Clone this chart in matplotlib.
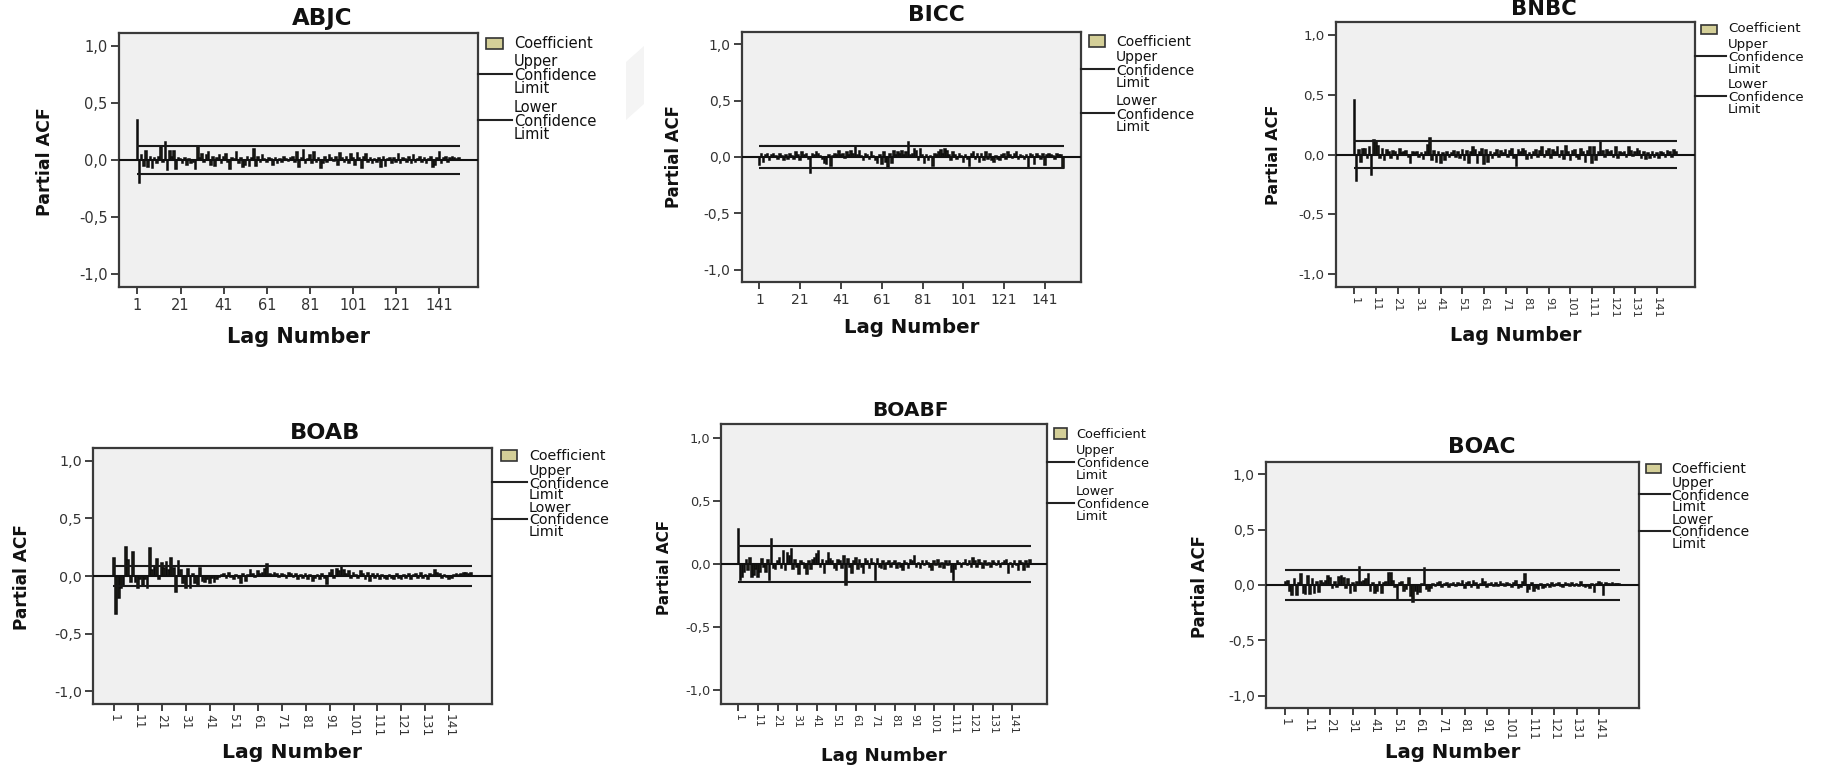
import numpy as np
import matplotlib
matplotlib.use('Agg')
import matplotlib.pyplot as plt
from matplotlib.lines import Line2D
from matplotlib.patches import Rectangle, Polygon

W, H = 1824, 768

titles = ['ABJC', 'BICC', 'BNBC', 'BOAB', 'BOABF', 'BOAC']
lags = np.arange(1, 151)
conf_limits = [0.122, 0.102, 0.116, 0.084, 0.143, 0.138]
y_ticks = [-1.0, -0.5, 0.0, 0.5, 1.0]
y_tick_labels = ['-1,0', '-0,5', '0,0', '0,5', '1,0']

abjc = [0.35, -0.20, 0.04, -0.05, 0.08, -0.06, 0.03, -0.07, 0.02, -0.03,
        0.03, 0.11, -0.02, 0.16, -0.09, 0.08, 0.03, 0.08, -0.08, 0.02,
        0.01, -0.03, 0.02, -0.04, 0.01, -0.03, -0.02, -0.08, 0.12, 0.02,
        0.05, -0.02, 0.04, 0.07, -0.04, 0.03, -0.05, 0.02, 0.04, -0.03,
        0.03, 0.05, -0.02, -0.08, 0.02, 0.01, 0.07, -0.03, 0.02, -0.06,
        -0.04, 0.03, -0.05, 0.02, 0.10, -0.05, 0.03, -0.02, 0.04, 0.01,
        -0.02, 0.02, 0.01, -0.04, 0.02, -0.03, 0.01, -0.02, 0.03, 0.01,
        -0.01, 0.02, 0.03, -0.02, 0.07, -0.06, 0.02, 0.09, -0.03, 0.01,
        0.04, -0.03, 0.07, -0.02, 0.02, -0.07, -0.03, 0.03, -0.02, 0.04,
        0.02, -0.01, 0.03, -0.04, 0.06, 0.02, -0.02, 0.03, -0.03, 0.05,
        0.02, -0.04, 0.06, 0.02, -0.07, 0.03, 0.05, -0.02, 0.02, -0.03,
        0.01, -0.02, 0.02, -0.06, 0.03, -0.05, 0.01, 0.02, -0.03, 0.02,
        -0.02, 0.05, -0.03, 0.02, 0.01, -0.02, 0.03, -0.03, 0.04, -0.02,
        0.01, 0.03, -0.02, 0.02, -0.03, 0.01, 0.03, -0.06, -0.04, 0.02,
        0.07, -0.03, 0.02, 0.03, -0.02, 0.02, 0.03, 0.02, 0.01, 0.02]

bicc = [-0.07, 0.03, -0.04, 0.02, 0.03, -0.03, 0.02, 0.03, 0.01, -0.02,
        0.03, 0.01, -0.03, 0.02, -0.02, 0.03, 0.01, -0.02, 0.04, 0.02,
        -0.03, 0.04, 0.02, 0.03, -0.02, -0.14, 0.03, 0.02, 0.04, 0.03,
        0.01, -0.02, -0.05, -0.06, 0.02, -0.08, 0.01, 0.03, 0.02, 0.05,
        0.02, 0.03, -0.01, 0.04, 0.02, 0.05, 0.03, 0.09, 0.02, 0.05,
        0.01, -0.03, 0.03, 0.02, -0.02, 0.04, 0.01, -0.03, -0.05, 0.02,
        -0.06, 0.04, -0.04, -0.09, 0.03, -0.05, 0.05, 0.02, 0.04, 0.03,
        0.05, 0.02, 0.04, 0.13, 0.02, 0.03, 0.07, 0.05, -0.03, 0.07,
        0.02, -0.05, 0.02, -0.03, 0.01, -0.08, 0.03, 0.02, 0.04, 0.06,
        0.03, 0.07, 0.05, 0.02, -0.03, 0.04, 0.02, -0.02, 0.03, 0.01,
        -0.04, 0.02, -0.02, -0.08, 0.03, 0.04, -0.02, 0.03, -0.04, 0.03,
        -0.03, 0.04, -0.02, 0.03, -0.03, -0.04, 0.01, -0.02, -0.03, 0.02,
        0.03, -0.02, 0.04, 0.02, -0.01, 0.03, 0.04, -0.02, 0.02, 0.01,
        -0.02, 0.02, -0.10, 0.03, 0.02, -0.06, 0.03, 0.01, -0.02, 0.03,
        -0.07, 0.02, 0.03, 0.02, 0.01, -0.02, 0.03, 0.02, 0.02, -0.10]

bnbc = [0.46, -0.22, 0.04, -0.06, 0.05, 0.05, -0.03, 0.06, -0.17, 0.12,
        0.11, 0.07, -0.03, 0.05, -0.05, 0.04, 0.02, -0.03, 0.03, 0.02,
        -0.04, 0.05, 0.01, 0.02, 0.03, -0.02, -0.07, 0.02, 0.01, 0.02,
        -0.02, 0.01, -0.04, 0.02, 0.08, 0.14, -0.05, 0.03, -0.06, 0.02,
        -0.07, 0.01, -0.05, 0.02, -0.02, 0.01, 0.03, -0.02, 0.02, -0.03,
        0.04, -0.05, 0.03, -0.07, 0.02, 0.06, 0.04, -0.07, 0.02, 0.05,
        -0.08, 0.04, -0.06, 0.02, -0.03, 0.01, 0.04, -0.02, 0.03, 0.01,
        0.04, -0.02, 0.03, 0.05, -0.03, -0.10, 0.04, 0.02, 0.05, 0.03,
        -0.04, 0.01, -0.03, 0.02, 0.04, -0.02, 0.03, 0.06, -0.02, 0.03,
        0.05, -0.03, 0.04, 0.02, 0.06, -0.02, 0.03, -0.04, 0.07, 0.02,
        -0.05, 0.03, 0.04, -0.02, -0.04, 0.05, 0.02, -0.06, 0.03, 0.06,
        -0.07, 0.06, -0.05, 0.02, 0.11, 0.03, -0.02, 0.04, 0.02, 0.03,
        -0.02, 0.06, -0.03, 0.02, 0.01, 0.02, -0.02, 0.06, 0.03, -0.01,
        0.02, 0.05, 0.03, -0.03, 0.02, -0.04, 0.01, -0.03, 0.02, -0.02,
        0.01, -0.03, 0.02, 0.01, -0.02, 0.03, 0.02, -0.02, 0.04, 0.02]

boab = [0.16, -0.33, -0.19, -0.10, -0.09, 0.25, 0.14, -0.05, 0.21, -0.05,
        -0.10, -0.03, -0.08, -0.03, -0.10, 0.24, 0.05, 0.08, 0.15, -0.03,
        0.11, 0.07, 0.12, 0.05, 0.16, 0.07, -0.14, 0.13, 0.05, -0.06,
        -0.10, 0.06, -0.10, 0.02, -0.06, -0.09, 0.07, -0.04, -0.05, -0.03,
        -0.06, -0.02, -0.05, -0.03, -0.01, 0.01, 0.02, -0.02, 0.03, -0.01,
        -0.03, 0.01, -0.02, -0.06, 0.02, -0.04, 0.01, 0.05, 0.02, -0.01,
        0.04, 0.02, 0.03, 0.06, 0.10, 0.02, 0.01, 0.03, 0.02, -0.01,
        0.02, 0.01, -0.02, 0.03, 0.02, -0.01, 0.02, -0.03, 0.01, -0.02,
        0.02, -0.03, 0.01, -0.04, -0.02, 0.01, -0.03, 0.02, -0.02, -0.07,
        0.03, 0.05, -0.02, 0.06, 0.04, 0.09, 0.05, 0.02, 0.04, -0.02,
        0.03, 0.01, -0.02, 0.04, 0.02, -0.03, 0.03, -0.04, 0.02, -0.02,
        0.02, -0.03, 0.01, -0.02, -0.03, 0.01, -0.02, -0.03, 0.02, -0.02,
        -0.03, 0.01, -0.02, 0.02, -0.03, 0.01, 0.02, -0.02, 0.03, -0.02,
        0.01, -0.03, 0.02, 0.01, 0.05, 0.03, 0.02, -0.02, 0.01, -0.01,
        -0.03, -0.02, 0.01, 0.02, 0.01, 0.02, 0.03, 0.03, 0.02, 0.03]

boabf = [0.28, -0.13, -0.10, -0.06, 0.03, -0.05, 0.05, -0.10, -0.09, -0.04,
         -0.10, -0.06, 0.04, -0.02, -0.06, 0.03, -0.13, 0.20, -0.03, -0.04,
         0.02, 0.05, -0.03, 0.10, -0.05, 0.09, 0.06, 0.12, -0.04, 0.03,
         -0.02, -0.08, 0.02, 0.01, -0.03, -0.08, 0.02, -0.04, 0.03, 0.05,
         0.08, 0.10, -0.02, 0.03, -0.07, 0.02, 0.09, 0.04, 0.02, -0.03,
         -0.05, 0.03, 0.02, -0.03, 0.06, -0.17, 0.04, -0.02, -0.07, 0.02,
         0.05, -0.04, 0.03, -0.02, -0.07, 0.04, 0.02, -0.03, 0.04, 0.01,
         -0.13, 0.04, -0.02, -0.03, 0.02, -0.04, 0.01, 0.02, -0.02, 0.01,
         0.02, -0.03, 0.01, -0.02, -0.05, 0.02, 0.01, -0.03, 0.03, 0.02,
         0.06, -0.02, 0.01, -0.03, 0.02, -0.01, 0.02, 0.01, -0.02, -0.05,
         0.02, -0.01, 0.03, -0.02, 0.01, -0.03, 0.02, -0.01, 0.02, -0.06,
         -0.13, -0.04, 0.02, 0.01, -0.02, 0.01, 0.03, -0.01, 0.02, -0.02,
         0.05, 0.02, -0.02, 0.03, 0.01, -0.03, 0.02, -0.01, 0.01, -0.02,
         0.02, 0.01, -0.01, 0.02, -0.02, 0.01, 0.02, 0.03, -0.07, 0.01,
         -0.02, 0.02, -0.01, -0.05, 0.02, 0.01, -0.05, 0.02, -0.02, 0.03]

boac = [0.03, 0.04, -0.05, -0.09, 0.05, -0.09, 0.02, 0.10, -0.07, -0.08,
        0.08, -0.08, 0.05, -0.07, 0.03, -0.06, 0.04, 0.02, 0.04, 0.08,
        0.06, -0.03, 0.03, -0.02, 0.07, 0.08, 0.06, -0.03, 0.05, -0.07,
        0.02, -0.05, 0.03, 0.16, 0.03, 0.04, 0.05, 0.10, -0.05, 0.02,
        -0.07, -0.05, 0.03, -0.07, 0.02, 0.03, 0.11, 0.11, 0.04, -0.02,
        -0.13, 0.02, 0.03, -0.05, -0.04, 0.06, -0.10, -0.15, -0.05, -0.08,
        -0.06, 0.01, 0.155, -0.04, -0.05, -0.03, 0.01, -0.01, 0.02, 0.03,
        -0.02, 0.01, 0.02, -0.02, 0.01, 0.02, -0.01, 0.02, 0.01, 0.04,
        -0.03, 0.02, 0.03, -0.02, 0.04, 0.02, -0.03, 0.01, 0.05, 0.03,
        -0.02, 0.01, 0.02, -0.01, 0.02, -0.01, 0.03, 0.01, -0.01, 0.02,
        0.01, -0.02, 0.02, 0.04, -0.03, -0.02, 0.03, 0.10, -0.06, -0.04,
        0.02, -0.05, -0.03, -0.04, 0.01, -0.03, -0.02, 0.01, -0.02, 0.02,
        -0.01, 0.01, 0.02, -0.01, -0.02, 0.02, 0.01, -0.01, 0.02, -0.01,
        0.01, -0.01, 0.03, -0.01, -0.02, -0.01, -0.03, 0.01, -0.06, 0.01,
        0.03, 0.02, -0.09, 0.02, 0.01, 0.01, 0.02, 0.01, 0.01, 0.01]

series = [abjc, bicc, bnbc, boab, boabf, boac]

# layout in pixels (left, right, top, bottom of plot box)
boxes = [(118.6, 477.6, 33, 287), (741.7, 1081, 32, 282), (1335.6, 1695, 22, 287),
         (93, 491.8, 448, 704), (721.4, 1047, 424, 704), (1266, 1638.7, 462, 708)]
title_pos = [(322, 18), (936, 15), (1544, 9), (325, 433), (910, 410), (1482, 447)]
xlab_pos = [(298.5, 337), (912, 328), (1516, 335), (292, 752), (884, 756), (1453, 753)]
ylab_pos = [(45, 162), (674, 157), (1274, 155), (22, 577), (665, 567), (1200, 587)]
fscale = [1.0, 0.95, 0.92, 0.98, 0.88, 0.95]
# legend: square dx, dy, w, h, text dx, coef y, upper y, lower y, line spacing
leg = [(8, 5, 17.5, 11, 36.5, 11, 41, 87, 13.5),
       (8, 3, 16, 12, 35, 10, 37, 81, 13.5),
       (6.5, 3, 15.5, 9, 33, 7, 34, 74, 12.5),
       (9, 2, 16.5, 11, 37, 8, 34, 71, 12.5),
       (7, 4, 13.5, 11, 29, 10, 38, 79, 13),
       (7, 2, 15, 9, 33, 7, 32, 69, 12.5)]

bar_col = '#d4cf98'


def fx(x):
    return x / W


def fy(y):
    return 1 - y / H


fig = plt.figure(figsize=(W / 100, H / 100), dpi=100)
fig.patch.set_facecolor('white')

# faint grey mark left of BICC
fig.add_artist(Polygon([(fx(626), fy(120)), (fx(626), fy(62)), (fx(644), fy(46)), (fx(644), fy(104))],
                       closed=True, facecolor='#f4f4f4', edgecolor='none', transform=fig.transFigure))

for i in range(6):
    l, r, t, b = boxes[i]
    s = fscale[i]
    ax = fig.add_axes([fx(l), fy(b), (r - l) / W, (b - t) / H])
    ax.set_facecolor('#f0f0f0')
    for sp in ax.spines.values():
        sp.set_color('#3a3a3a')
        sp.set_linewidth(1.6)
    ax.bar(lags, series[i], width=0.75, color='#3a3826', edgecolor='#0d0d0d', linewidth=1.1, zorder=3)
    ax.axhline(0, color='#111111', lw=1.5, zorder=4)
    c = conf_limits[i]
    ax.hlines([c, -c], 0.6, 150.4, color='#1a1a1a', lw=1.5, zorder=4)
    ax.set_xlim(-7.7, 158.7)
    ax.set_ylim(-1.11, 1.11)
    ax.set_yticks(y_ticks, y_tick_labels)
    ax.tick_params(axis='y', length=6, width=1.3, pad=2, labelsize=10.5 * s, colors='#333333')
    if i < 2:
        xt = np.arange(1, 150, 20)
        ax.set_xticks(xt, [str(v) for v in xt])
        ax.tick_params(axis='x', length=5, width=1.3, pad=3, labelsize=10.5 * s, colors='#333333')
    else:
        xt = np.arange(1, 150, 10)
        ax.set_xticks(xt, [str(v) for v in xt], rotation=-90)
        ax.tick_params(axis='x', length=5, width=1.3, pad=2, labelsize=9 * s, colors='#333333')

    fig.text(fx(title_pos[i][0]), fy(title_pos[i][1]), titles[i], ha='center', va='center',
             fontsize=16.5 * s, fontweight='bold', color='#111111')
    fig.text(fx(xlab_pos[i][0]), fy(xlab_pos[i][1]), 'Lag Number', ha='center', va='center',
             fontsize=15 * s, fontweight='bold', color='#111111')
    fig.text(fx(ylab_pos[i][0]), fy(ylab_pos[i][1]), 'Partial ACF', ha='center', va='center',
             rotation=90, fontsize=12.5 * s, fontweight='bold', color='#111111')

    # legend
    dx, dy, sw, sh, tx, cy, uy, ly, spc = leg[i]
    fig.add_artist(Rectangle((fx(r + dx), fy(t + dy + sh)), sw / W, sh / H, facecolor=bar_col,
                             edgecolor='#333333', linewidth=1.2, transform=fig.transFigure))
    fs = 10.5 * s
    fig.text(fx(r + tx), fy(t + cy), 'Coefficient', ha='left', va='center', fontsize=fs, color='#111111')
    for yy, word in [(uy, 'Upper'), (ly, 'Lower')]:
        fig.add_artist(Line2D([fx(r), fx(r + tx - 2)], [fy(t + yy), fy(t + yy)], color='#222222',
                              lw=1.5, transform=fig.transFigure))
        fig.text(fx(r + tx), fy(t + yy - 0.9 * spc), word, ha='left', va='center', fontsize=fs, color='#111111')
        fig.text(fx(r + tx), fy(t + yy + 0.12 * spc), 'Confidence', ha='left', va='center', fontsize=fs, color='#111111')
        fig.text(fx(r + tx), fy(t + yy + 1.05 * spc), 'Limit', ha='left', va='center', fontsize=fs, color='#111111')

fig.savefig('out.png', dpi=100)
